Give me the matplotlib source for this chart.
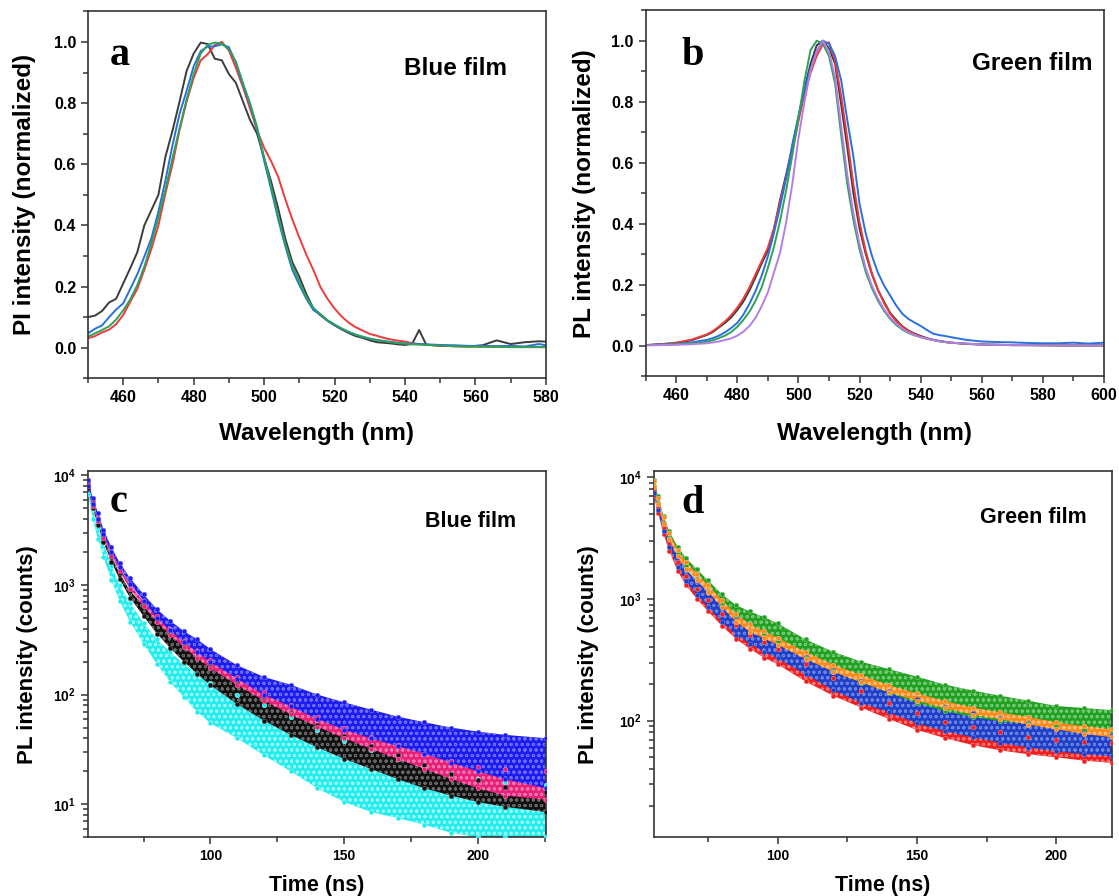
import matplotlib
matplotlib.use("Agg")
import matplotlib.pyplot as plt
from matplotlib.ticker import MultipleLocator, FixedLocator, FixedFormatter, LogLocator, NullFormatter

plt.rcParams['font.family'] = ['Liberation Sans', 'DejaVu Sans']
plt.rcParams['font.weight'] = 'bold'
plt.rcParams['mathtext.fontset'] = 'custom'
plt.rcParams['mathtext.rm'] = 'Liberation Sans:bold'
plt.rcParams['mathtext.bf'] = 'Liberation Sans:bold'
plt.rcParams['mathtext.it'] = 'Liberation Sans:bold'
plt.rcParams['hatch.linewidth'] = 0.7

# ---------------- Panel a : Blue film PL spectra ----------------
wl_a = [450, 452, 454, 456, 458, 460, 462, 464, 466, 468, 470, 472, 474, 476, 478,
        480, 482, 484, 486, 488, 490, 492, 494, 496, 498, 500, 502, 504, 506, 508,
        510, 512, 514, 516, 518, 520, 522, 524, 526, 528, 530, 532, 534, 536, 538,
        540, 542, 544, 546, 550, 554, 558, 562, 566, 570, 574, 578, 580]
a_black = [0.100, 0.105, 0.120, 0.148, 0.160, 0.210, 0.260, 0.312, 0.400, 0.450, 0.500, 0.625, 0.710, 0.805, 0.905,
           0.962, 0.998, 0.993, 0.945, 0.940, 0.895, 0.866, 0.805, 0.745, 0.700, 0.620, 0.543, 0.455, 0.357, 0.280,
           0.232, 0.175, 0.128, 0.106, 0.088, 0.073, 0.060, 0.048, 0.038, 0.032, 0.024, 0.018, 0.016, 0.014, 0.011,
           0.009, 0.012, 0.058, 0.010, 0.006, 0.005, 0.004, 0.008, 0.024, 0.012, 0.018, 0.021, 0.020]
a_red = [0.031, 0.038, 0.050, 0.059, 0.077, 0.107, 0.150, 0.192, 0.255, 0.323, 0.400, 0.505, 0.600, 0.712, 0.805,
         0.882, 0.940, 0.960, 0.990, 1.000, 0.972, 0.915, 0.852, 0.782, 0.712, 0.654, 0.610, 0.559, 0.486, 0.420,
         0.360, 0.304, 0.254, 0.198, 0.160, 0.128, 0.102, 0.082, 0.067, 0.056, 0.045, 0.039, 0.032, 0.027, 0.023,
         0.020, 0.015, 0.012, 0.010, 0.007, 0.005, 0.004, 0.003, 0.003, 0.002, 0.002, 0.002, 0.002]
a_blue = [0.047, 0.062, 0.073, 0.100, 0.125, 0.145, 0.192, 0.240, 0.298, 0.358, 0.445, 0.548, 0.662, 0.765, 0.840,
          0.920, 0.970, 0.985, 0.986, 0.992, 0.983, 0.932, 0.860, 0.795, 0.715, 0.612, 0.518, 0.420, 0.332, 0.255,
          0.205, 0.160, 0.123, 0.108, 0.088, 0.075, 0.062, 0.051, 0.042, 0.035, 0.029, 0.025, 0.022, 0.019, 0.016,
          0.014, 0.013, 0.012, 0.011, 0.009, 0.008, 0.006, 0.006, 0.005, 0.006, 0.004, 0.012, 0.008]
a_green = [0.036, 0.047, 0.058, 0.070, 0.092, 0.122, 0.158, 0.205, 0.265, 0.342, 0.425, 0.518, 0.620, 0.718, 0.812,
           0.895, 0.962, 0.991, 0.998, 0.994, 0.976, 0.935, 0.865, 0.800, 0.722, 0.622, 0.527, 0.430, 0.340, 0.268,
           0.215, 0.165, 0.130, 0.110, 0.090, 0.076, 0.063, 0.052, 0.043, 0.036, 0.030, 0.025, 0.021, 0.018, 0.015,
           0.013, 0.011, 0.010, 0.009, 0.007, 0.005, 0.004, 0.003, 0.003, 0.002, 0.002, 0.002, 0.002]

# ---------------- Panel b : Green film PL spectra ----------------
wl_b = [450, 455, 460, 465, 470, 472, 474, 476, 478, 480, 482, 484, 486, 488, 490, 492, 494, 496, 498,
        500, 502, 504, 506, 508, 510, 512, 514, 516, 518, 520, 522, 524, 526, 528, 530, 532, 534, 536,
        538, 540, 542, 544, 546, 548, 550, 555, 560, 565, 570, 575, 580, 585, 590, 595, 600]
b_black = [0.002, 0.005, 0.009, 0.018, 0.035, 0.045, 0.060, 0.075, 0.093, 0.117, 0.145, 0.182, 0.225, 0.270, 0.312,
           0.383, 0.478, 0.562, 0.650, 0.750, 0.845, 0.925, 0.985, 1.000, 0.975, 0.925, 0.790, 0.650, 0.500, 0.385,
           0.302, 0.236, 0.183, 0.145, 0.108, 0.085, 0.064, 0.050, 0.040, 0.032, 0.025, 0.020, 0.016, 0.013, 0.010,
           0.006, 0.004, 0.003, 0.002, 0.002, 0.002, 0.001, 0.001, 0.001, 0.001]
b_red = [0.002, 0.005, 0.010, 0.020, 0.037, 0.048, 0.063, 0.080, 0.100, 0.125, 0.155, 0.192, 0.235, 0.278, 0.322,
         0.385, 0.470, 0.552, 0.640, 0.735, 0.825, 0.895, 0.950, 0.988, 0.995, 0.935, 0.820, 0.680, 0.530, 0.405,
         0.312, 0.240, 0.185, 0.140, 0.105, 0.080, 0.062, 0.048, 0.038, 0.030, 0.024, 0.019, 0.015, 0.012, 0.010,
         0.006, 0.004, 0.003, 0.002, 0.002, 0.002, 0.001, 0.001, 0.001, 0.001]
b_blue = [0.002, 0.004, 0.006, 0.011, 0.019, 0.025, 0.033, 0.044, 0.058, 0.075, 0.102, 0.138, 0.180, 0.230, 0.293,
          0.370, 0.456, 0.550, 0.660, 0.750, 0.840, 0.910, 0.965, 1.000, 0.990, 0.950, 0.870, 0.740, 0.620, 0.466,
          0.370, 0.297, 0.240, 0.198, 0.165, 0.132, 0.105, 0.088, 0.076, 0.065, 0.052, 0.040, 0.035, 0.032, 0.028,
          0.019, 0.014, 0.012, 0.011, 0.009, 0.008, 0.008, 0.010, 0.007, 0.010]
b_green = [0.002, 0.003, 0.005, 0.008, 0.013, 0.018, 0.025, 0.033, 0.045, 0.062, 0.085, 0.112, 0.148, 0.192, 0.255,
           0.324, 0.410, 0.510, 0.625, 0.745, 0.870, 0.970, 1.000, 0.990, 0.950, 0.860, 0.690, 0.530, 0.412, 0.316,
           0.243, 0.190, 0.148, 0.115, 0.088, 0.068, 0.053, 0.042, 0.034, 0.028, 0.023, 0.019, 0.015, 0.012, 0.010,
           0.007, 0.004, 0.003, 0.002, 0.002, 0.001, 0.001, 0.001, 0.001, 0.001]
b_purple = [0.001, 0.002, 0.003, 0.005, 0.008, 0.011, 0.014, 0.019, 0.024, 0.033, 0.046, 0.065, 0.092, 0.130, 0.175,
            0.240, 0.305, 0.405, 0.530, 0.680, 0.800, 0.905, 0.965, 1.000, 0.965, 0.880, 0.720, 0.560, 0.435, 0.333,
            0.255, 0.198, 0.155, 0.120, 0.092, 0.072, 0.056, 0.044, 0.035, 0.028, 0.023, 0.019, 0.015, 0.012, 0.010,
            0.007, 0.004, 0.003, 0.002, 0.002, 0.001, 0.001, 0.001, 0.001, 0.001]

# ---------------- Panel c : Blue film PL decay (band envelopes, counts) ----------------
t_c = [54.2, 56, 58, 60, 63, 66, 70, 75, 80, 85, 90, 95, 100, 110, 120, 130, 140, 150, 160, 170,
       180, 190, 200, 210, 225.6]
c_blue_hi = [9100, 6200, 4500, 3200, 2200, 1600, 1150, 820, 600, 470, 380, 320, 260, 185, 145, 123, 100, 85, 73, 63,
             56, 50, 46, 43, 40]
c_blue_lo = [8000, 5500, 4000, 2900, 2000, 1450, 1020, 720, 500, 385, 300, 245, 198, 140, 100, 78, 60, 48, 40, 34,
             29, 24, 20, 17, 14]
c_pink_hi = [8500, 5800, 4100, 2950, 2000, 1450, 1000, 710, 520, 400, 310, 250, 205, 145, 106, 80, 63, 50, 41, 35,
             29, 25, 22, 21, 20]
c_pink_lo = [8000, 5300, 3800, 2700, 1850, 1330, 920, 640, 460, 350, 270, 215, 175, 122, 88, 66, 51, 40, 32, 26,
             21, 17, 14, 12, 11]
c_black_hi = [8000, 5300, 3800, 2700, 1800, 1280, 880, 650, 465, 355, 275, 218, 178, 125, 90, 68, 53, 42, 34, 28,
              23, 19, 16.5, 14.5, 13]
c_black_lo = [7600, 5000, 3500, 2450, 1620, 1130, 760, 520, 360, 265, 200, 155, 122, 82, 58, 43, 33, 26, 21, 17,
              14, 12, 10.5, 9.5, 8.5]
c_cyan_hi = [7900, 4900, 3300, 2400, 1500, 1000, 680, 450, 320, 245, 190, 155, 128, 100, 80, 62, 48, 38, 31, 26,
             22, 19, 17, 16, 15]
c_cyan_lo = [6800, 4000, 2600, 1800, 1100, 720, 460, 290, 190, 130, 95, 70, 55, 40, 28, 20, 14, 10.5, 8.5, 7.5,
             6.5, 5.5, 5, 5, 5]

# ---------------- Panel d : Green film PL decay (band envelopes, counts) ----------------
t_d = [55.4, 57, 59, 61, 64, 67, 71, 75, 80, 85, 90, 95, 100, 110, 120, 130, 140, 150, 160, 170,
       180, 190, 200, 210, 220]
d_green_hi = [9500, 7000, 4800, 3600, 2700, 2180, 1750, 1420, 1090, 890, 790, 710, 630, 465, 368, 305, 265, 230, 198, 177,
              160, 146, 132, 127, 122]
d_green_lo = [8500, 6200, 4200, 3200, 2400, 1900, 1450, 1150, 900, 740, 620, 530, 450, 325, 255, 205, 170, 139, 120, 107,
              99, 94, 90, 86, 83]
d_orange_hi = [9300, 6800, 4700, 3500, 2550, 2020, 1620, 1300, 980, 750, 620, 545, 480, 368, 288, 237, 195, 168, 145, 128,
               117, 107, 97, 90, 85]
d_orange_lo = [8300, 6000, 4100, 3100, 2250, 1780, 1420, 1140, 860, 650, 540, 475, 420, 322, 252, 207, 171, 146, 127, 112,
               103, 93, 85, 78, 73]
d_blue_hi = [8300, 6000, 4100, 3150, 2250, 1750, 1400, 1150, 880, 730, 620, 540, 470, 335, 260, 210, 175, 150, 130, 115,
             105, 96, 88, 82, 77]
d_blue_lo = [7500, 5400, 3600, 2700, 1850, 1400, 1080, 860, 650, 510, 430, 370, 325, 240, 178, 140, 117, 95, 82, 73,
             66, 60, 56, 53, 51]
d_red_hi = [7800, 5600, 3800, 2850, 2000, 1550, 1220, 980, 760, 610, 510, 440, 390, 290, 225, 175, 140, 115, 98, 88,
            80, 74, 70, 67, 65]
d_red_lo = [7200, 5100, 3400, 2500, 1700, 1300, 1000, 790, 600, 470, 390, 330, 290, 210, 160, 128, 103, 84, 72, 63,
            57, 53, 50, 47, 45]

# ---------------- figure ----------------
fig = plt.figure(figsize=(11.19, 8.96), dpi=100)
ax_a = fig.add_axes([0.0786, 0.5778, 0.4093, 0.4095])
ax_b = fig.add_axes([0.5770, 0.5801, 0.4095, 0.4085])
ax_c = fig.add_axes([0.0786, 0.0655, 0.4097, 0.4088])
ax_d = fig.add_axes([0.5841, 0.0655, 0.4095, 0.4088])

SPINE = '#333333'
def style(ax, tick_size):
    for s in ax.spines.values():
        s.set_color(SPINE)
        s.set_linewidth(1.2)
    ax.tick_params(which='both', direction='out', top=False, right=False, color=SPINE, width=1.1,
                   labelsize=tick_size)
    ax.tick_params(which='major', length=5)
    ax.tick_params(which='minor', length=3.5)
    for lab in ax.get_xticklabels() + ax.get_yticklabels():
        lab.set_fontweight('bold')

col_black = '#3c3c3c'
col_red = '#f03a3a'
col_blue = '#2a6fe0'
col_green = '#2ca25a'
col_purple = '#b57ee6'
LW = 1.4

# panel a
ax_a.plot(wl_a, a_black, color=col_black, lw=LW)
ax_a.plot(wl_a, a_red, color=col_red, lw=LW)
ax_a.plot(wl_a, a_blue, color=col_blue, lw=LW)
ax_a.plot(wl_a, a_green, color=col_green, lw=LW)
ax_a.set_xlim(450, 580)
ax_a.set_ylim(-0.1, 1.1)
ax_a.xaxis.set_minor_locator(MultipleLocator(10))
ax_a.yaxis.set_minor_locator(MultipleLocator(0.1))
ax_a.set_xticks([460, 480, 500, 520, 540, 560, 580])
ax_a.set_xticklabels(['460', '480', '500', '520', '540', '560', '580'])
ax_a.set_yticks([0.0, 0.2, 0.4, 0.6, 0.8, 1.0])
ax_a.set_yticklabels(['0.0', '0.2', '0.4', '0.6', '0.8', '1.0'])
style(ax_a, 11.5)
ax_a.set_xlabel('Wavelength (nm)', fontsize=17.5, fontweight='bold')
ax_a.set_ylabel('PI intensity (normalized)', fontsize=17.5, fontweight='bold')
ax_a.xaxis.set_label_coords(0.5, -0.118)
ax_a.yaxis.set_label_coords(-0.1135, 0.5)
ax_a.text(0.048, 0.855, 'a', transform=ax_a.transAxes, fontsize=29, fontweight='bold',
          family=['Liberation Serif'], va='baseline', ha='left')
ax_a.text(0.803, 0.827, 'Blue film', transform=ax_a.transAxes, fontsize=17.5, fontweight='bold',
          va='baseline', ha='center')

# panel b
ax_b.plot(wl_b, b_black, color=col_black, lw=LW)
ax_b.plot(wl_b, b_red, color=col_red, lw=LW)
ax_b.plot(wl_b, b_blue, color=col_blue, lw=LW)
ax_b.plot(wl_b, b_green, color=col_green, lw=LW)
ax_b.plot(wl_b, b_purple, color=col_purple, lw=LW)
ax_b.set_xlim(450, 600)
ax_b.set_ylim(-0.1, 1.1)
ax_b.xaxis.set_minor_locator(MultipleLocator(10))
ax_b.yaxis.set_minor_locator(MultipleLocator(0.1))
ax_b.set_xticks([460, 480, 500, 520, 540, 560, 580, 600])
ax_b.set_xticklabels(['460', '480', '500', '520', '540', '560', '580', '600'])
ax_b.set_yticks([0.0, 0.2, 0.4, 0.6, 0.8, 1.0])
ax_b.set_yticklabels(['0.0', '0.2', '0.4', '0.6', '0.8', '1.0'])
style(ax_b, 11.5)
ax_b.set_xlabel('Wavelength (nm)', fontsize=17.5, fontweight='bold')
ax_b.set_ylabel('PL intensity (normalized)', fontsize=17.5, fontweight='bold')
ax_b.xaxis.set_label_coords(0.5, -0.124)
ax_b.yaxis.set_label_coords(-0.109, 0.5)
ax_b.text(0.079, 0.850, 'b', transform=ax_b.transAxes, fontsize=29, fontweight='bold',
          family=['Liberation Serif'], va='baseline', ha='left')
ax_b.text(0.843, 0.837, 'Green film', transform=ax_b.transAxes, fontsize=17.5, fontweight='bold',
          va='baseline', ha='center')

# decay bands: dense dot clouds drawn as a filled band with a dotted texture
def band(ax, t, lo, hi, color, tint, ms=11):
    ax.fill_between(t, lo, hi, facecolor=color, edgecolor=tint, hatch='ooo', lw=0, zorder=2)
    ax.scatter(t, hi, s=ms, color=color, edgecolors=tint, linewidths=0.4, zorder=3)
    ax.scatter(t, lo, s=ms, color=color, edgecolors=tint, linewidths=0.4, zorder=3)

band(ax_c, t_c, c_cyan_lo, c_cyan_hi, '#22ecec', '#9ff7f7')
band(ax_c, t_c, c_black_lo, c_black_hi, '#111111', '#6a6a6a')
band(ax_c, t_c, c_pink_lo, c_pink_hi, '#e8207a', '#f27ab0')
band(ax_c, t_c, c_blue_lo, c_blue_hi, '#1c1cf0', '#6f6ff7')
ax_c.set_yscale('log')
ax_c.set_xlim(54.2, 225.6)
ax_c.set_ylim(5, 10940)
ax_c.xaxis.set_major_locator(FixedLocator([100, 150, 200]))
ax_c.xaxis.set_minor_locator(FixedLocator([75, 125, 175, 225]))
ax_c.xaxis.set_major_formatter(FixedFormatter(['100', '150', '200']))
ax_c.yaxis.set_major_locator(FixedLocator([10, 100, 1000, 10000]))
ax_c.yaxis.set_major_formatter(FixedFormatter([r'$10^{1}$', r'$10^{2}$', r'$10^{3}$', r'$10^{4}$']))
ax_c.yaxis.set_minor_locator(LogLocator(base=10, subs=(2, 3, 4, 5, 6, 7, 8, 9)))
ax_c.yaxis.set_minor_formatter(NullFormatter())
style(ax_c, 10)
ax_c.set_xlabel('Time (ns)', fontsize=15.5, fontweight='bold')
ax_c.set_ylabel('PL intensity (counts)', fontsize=16, fontweight='bold')
ax_c.xaxis.set_label_coords(0.5, -0.103)
ax_c.yaxis.set_label_coords(-0.108, 0.5)
ax_c.text(0.048, 0.888, 'c', transform=ax_c.transAxes, fontsize=29, fontweight='bold',
          family=['Liberation Serif'], va='baseline', ha='left')
ax_c.text(0.834, 0.847, 'Blue film', transform=ax_c.transAxes, fontsize=15.5, fontweight='bold',
          va='baseline', ha='center')

band(ax_d, t_d, d_red_lo, d_red_hi, '#f01e1e', '#f77a7a')
band(ax_d, t_d, d_blue_lo, d_blue_hi, '#1f3fc8', '#6f86e0')
band(ax_d, t_d, d_green_lo, d_green_hi, '#22a022', '#77c877')
band(ax_d, t_d, d_orange_lo, d_orange_hi, '#ff8a1c', '#ffc080')
ax_d.set_yscale('log')
ax_d.set_xlim(55.4, 220)
ax_d.set_ylim(11, 11270)
ax_d.xaxis.set_major_locator(FixedLocator([100, 150, 200]))
ax_d.xaxis.set_minor_locator(FixedLocator([75, 125, 175]))
ax_d.xaxis.set_major_formatter(FixedFormatter(['100', '150', '200']))
ax_d.yaxis.set_major_locator(FixedLocator([100, 1000, 10000]))
ax_d.yaxis.set_major_formatter(FixedFormatter([r'$10^{2}$', r'$10^{3}$', r'$10^{4}$']))
ax_d.yaxis.set_minor_locator(LogLocator(base=10, subs=(2, 3, 4, 5, 6, 7, 8, 9)))
ax_d.yaxis.set_minor_formatter(NullFormatter())
style(ax_d, 10)
ax_d.set_xlabel('Time (ns)', fontsize=15.5, fontweight='bold')
ax_d.set_ylabel('PL intensity (counts)', fontsize=16, fontweight='bold')
ax_d.xaxis.set_label_coords(0.5, -0.103)
ax_d.yaxis.set_label_coords(-0.119, 0.5)
ax_d.text(0.060, 0.885, 'd', transform=ax_d.transAxes, fontsize=29, fontweight='bold',
          family=['Liberation Serif'], va='baseline', ha='left')
ax_d.text(0.828, 0.858, 'Green film', transform=ax_d.transAxes, fontsize=15.5, fontweight='bold',
          va='baseline', ha='center')

fig.savefig('out.png', dpi=100)
